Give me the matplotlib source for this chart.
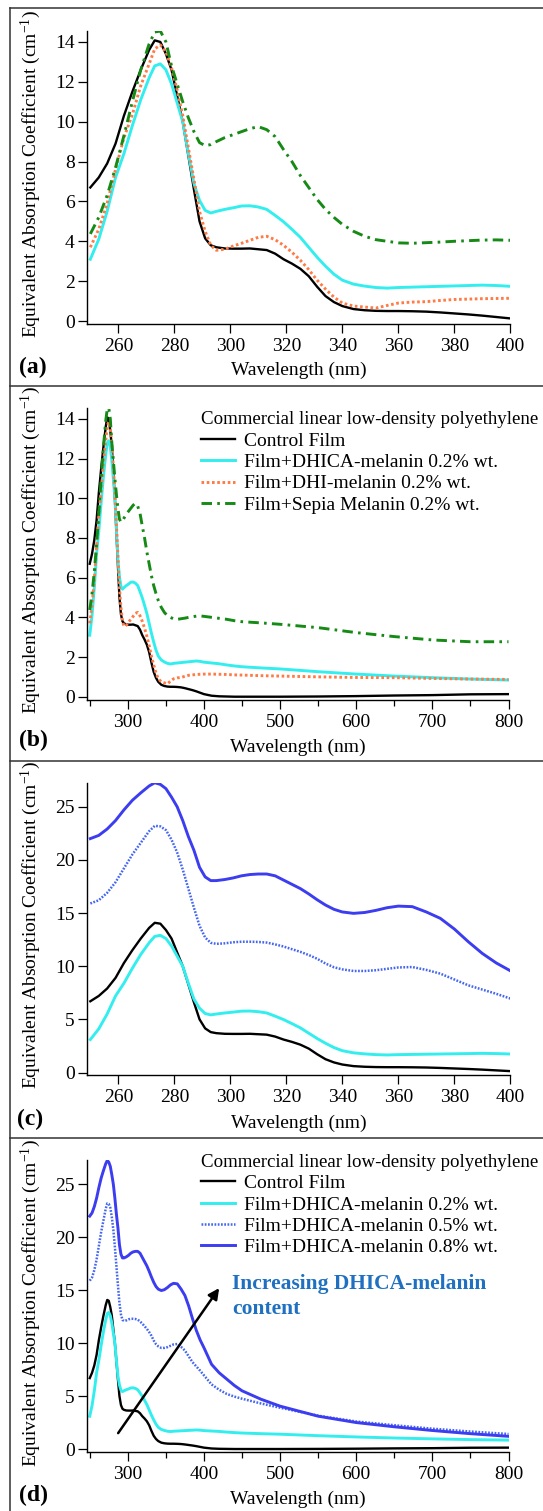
import numpy as np
import matplotlib
matplotlib.use('Agg')
import matplotlib.pyplot as plt
from matplotlib.ticker import MultipleLocator

plt.rcParams['font.family'] = ['Liberation Serif', 'DejaVu Serif']
plt.rcParams['mathtext.fontset'] = 'custom'
plt.rcParams['mathtext.rm'] = 'Liberation Serif'
plt.rcParams['mathtext.it'] = 'Liberation Serif:italic'
plt.rcParams['mathtext.bf'] = 'Liberation Serif:bold'

# wavelength grid (nm)
wl = [250, 253, 256, 259, 262, 265, 268, 271, 273, 275, 277, 279, 281, 283, 285, 287,
      289, 291, 293, 295, 298, 301, 304, 307, 310, 313, 316, 319, 322, 325, 328, 331,
      334, 337, 340, 344, 348, 352, 356, 360, 365, 370, 375, 380, 385, 390, 395, 400,
      410, 420, 430, 440, 450, 475, 500, 550, 600, 650, 700, 750, 800]

control = [6.7, 7.2, 7.9, 8.9, 10.3, 11.5, 12.6, 13.6, 14.08, 14.0, 13.4, 12.6, 11.3, 10.0, 8.3, 6.6,
           5.0, 4.15, 3.8, 3.7, 3.64, 3.63, 3.63, 3.64, 3.6, 3.56, 3.38, 3.1, 2.88, 2.62, 2.25, 1.72,
           1.25, 0.95, 0.75, 0.6, 0.54, 0.51, 0.5, 0.5, 0.49, 0.47, 0.43, 0.38, 0.33, 0.27, 0.2, 0.13,
           0.05, 0.02, 0.01, 0.0, 0.0, 0.0, 0.0, 0.01, 0.03, 0.06, 0.08, 0.12, 0.13]

dhica_02 = [3.1, 4.1, 5.5, 7.2, 8.4, 9.8, 11.1, 12.2, 12.8, 12.9, 12.6, 11.9, 10.95, 10.0, 8.4, 6.9,
            6.05, 5.55, 5.42, 5.5, 5.6, 5.68, 5.77, 5.78, 5.72, 5.6, 5.3, 4.98, 4.6, 4.2, 3.7, 3.2,
            2.75, 2.35, 2.05, 1.85, 1.75, 1.68, 1.65, 1.68, 1.7, 1.72, 1.74, 1.76, 1.78, 1.8, 1.78, 1.74,
            1.7, 1.66, 1.6, 1.55, 1.51, 1.45, 1.4, 1.26, 1.14, 1.04, 0.96, 0.89, 0.84]

dhi_02 = [3.7, 4.6, 5.9, 7.6, 9.2, 10.35, 11.8, 12.9, 13.65, 13.85, 13.5, 12.7, 11.6, 10.3, 8.7, 7.1,
          5.5, 4.5, 3.8, 3.55, 3.6, 3.76, 3.9, 4.05, 4.2, 4.25, 4.08, 3.8, 3.45, 3.05, 2.58, 2.05,
          1.6, 1.2, 0.9, 0.75, 0.7, 0.65, 0.78, 0.9, 0.95, 0.97, 1.03, 1.08, 1.1, 1.12, 1.13, 1.14,
          1.14, 1.13, 1.12, 1.1, 1.09, 1.06, 1.04, 1.0, 0.97, 0.96, 0.92, 0.89, 0.87]

sepia_02 = [4.37, 5.2, 6.3, 7.7, 9.3, 11.0, 12.6, 13.9, 14.5, 14.55, 14.0, 12.8, 11.9, 11.0, 10.2, 9.5,
            8.95, 8.8, 8.85, 9.0, 9.2, 9.35, 9.5, 9.65, 9.75, 9.6, 9.25, 8.6, 8.0, 7.3, 6.7, 6.1,
            5.6, 5.2, 4.85, 4.5, 4.25, 4.08, 4.0, 3.92, 3.9, 3.93, 3.96, 4.0, 4.03, 4.06, 4.07, 4.05,
            4.0, 3.95, 3.9, 3.83, 3.78, 3.72, 3.65, 3.48, 3.23, 3.03, 2.86, 2.77, 2.77]

dhica_05 = [15.9, 16.2, 16.9, 17.9, 19.2, 20.5, 21.6, 22.7, 23.2, 23.15, 22.8, 21.9, 20.7, 19.1, 17.3, 15.5,
            13.8, 12.7, 12.2, 12.1, 12.15, 12.25, 12.3, 12.3, 12.28, 12.22, 12.05, 11.85, 11.6, 11.35, 11.05, 10.7,
            10.25, 9.9, 9.7, 9.55, 9.55, 9.62, 9.75, 9.88, 9.92, 9.65, 9.3, 8.75, 8.2, 7.8, 7.4, 6.96,
            6.1, 5.6, 5.2, 4.95, 4.75, 4.3, 3.9, 3.15, 2.6, 2.25, 1.92, 1.65, 1.42]

dhica_08 = [22.0, 22.3, 22.9, 23.7, 24.7, 25.6, 26.3, 26.95, 27.25, 27.1, 26.7, 25.9, 25.0, 23.7, 22.2, 20.9,
            19.3, 18.4, 18.05, 18.05, 18.15, 18.3, 18.5, 18.62, 18.67, 18.67, 18.5, 18.1, 17.7, 17.3, 16.8, 16.25,
            15.75, 15.35, 15.1, 14.97, 15.05, 15.25, 15.5, 15.65, 15.6, 15.1, 14.5, 13.5, 12.3, 11.2, 10.3, 9.57,
            8.0, 7.2, 6.6, 6.0, 5.5, 4.7, 4.05, 3.1, 2.5, 2.1, 1.75, 1.45, 1.2]

legend_title = 'Commercial linear low-density polyethylene'
top_series = [('Control Film', control), ('Film+DHICA-melanin 0.2% wt.', dhica_02),
              ('Film+DHI-melanin 0.2% wt.', dhi_02), ('Film+Sepia Melanin 0.2% wt.', sepia_02)]
bot_series = [('Control Film', control), ('Film+DHICA-melanin 0.2% wt.', dhica_02),
              ('Film+DHICA-melanin 0.5% wt.', dhica_05), ('Film+DHICA-melanin 0.8% wt.', dhica_08)]

styles = {
    'Control Film': dict(color='black', lw=1.7, ls='-'),
    'Film+DHICA-melanin 0.2% wt.': dict(color='#33EEEE', lw=2.1, ls='-'),
    'Film+DHI-melanin 0.2% wt.': dict(color='#FF7A45', lw=2.1, ls=(0, (0.9, 0.9))),
    'Film+Sepia Melanin 0.2% wt.': dict(color='#158A15', lw=2.1, ls=(0, (3.6, 1.8, 0.9, 1.8))),
    'Film+DHICA-melanin 0.5% wt.': dict(color='#4466F2', lw=1.8, ls=(0, (0.7, 0.6))),
    'Film+DHICA-melanin 0.8% wt.': dict(color='#3C3CF0', lw=2.1, ls='-'),
}

FS = 14
W, H = 543, 1511
fig = plt.figure(figsize=(W / 100, H / 100), dpi=100)


def box(l, t, r, b):
    return [l / W, 1 - b / H, (r - l) / W, (b - t) / H]


def style_axis(ax, xmaj, xmin):
    for s in ['top', 'right']:
        ax.spines[s].set_visible(False)
    for s in ['left', 'bottom']:
        ax.spines[s].set_linewidth(1.0)
    ax.xaxis.set_major_locator(MultipleLocator(xmaj))
    if xmin:
        ax.xaxis.set_minor_locator(MultipleLocator(xmin))
    ax.tick_params(axis='both', which='major', direction='out', length=6.5, width=0.9,
                   labelsize=FS)
    ax.tick_params(axis='x', which='major', pad=3.5)
    ax.tick_params(axis='y', which='major', pad=2.2)
    ax.tick_params(axis='x', which='minor', direction='out', length=4.5, width=0.9)
    ax.set_xlabel('Wavelength (nm)', fontsize=FS)
    ax.set_ylabel('Equivalent Absorption Coefficient (cm$^{-1}$)', fontsize=FS)
    ax.yaxis.set_label_coords(-0.104, 0.512)


ax_a = fig.add_axes(box(86.7, 31, 510.3, 324))
ax_b = fig.add_axes(box(86.7, 408, 508.5, 700))
ax_c = fig.add_axes(box(86.7, 783, 510.3, 1075))
ax_d = fig.add_axes(box(86.7, 1160, 508.5, 1452.3))

for ax in (ax_a, ax_b):
    for name, vals in top_series:
        ax.plot(wl, vals, label=name, **styles[name])
for ax in (ax_c, ax_d):
    for name, vals in bot_series:
        ax.plot(wl, vals, label=name, **styles[name])

ax_a.set_xlim(248.7, 400)
ax_a.set_ylim(-0.15, 14.55)
ax_a.yaxis.set_major_locator(MultipleLocator(2))
style_axis(ax_a, 20, None)
ax_a.xaxis.set_label_coords(0.5, -0.1287)

ax_b.set_xlim(246.0, 800)
ax_b.set_ylim(-0.166, 14.55)
ax_b.yaxis.set_major_locator(MultipleLocator(2))
style_axis(ax_b, 100, 50)
ax_b.xaxis.set_label_coords(0.5, -0.1336)

ax_c.set_xlim(248.7, 400)
ax_c.set_ylim(-0.235, 27.23)
ax_c.yaxis.set_major_locator(MultipleLocator(5))
style_axis(ax_c, 20, None)
ax_c.xaxis.set_label_coords(0.5, -0.137)

ax_d.set_xlim(246.0, 800)
ax_d.set_ylim(-0.31, 27.3)
ax_d.yaxis.set_major_locator(MultipleLocator(5))
style_axis(ax_d, 100, 50)
ax_d.xaxis.set_label_coords(0.5, -0.1314)

for ax, ytop in ((ax_b, 411.5), (ax_d, 1154.0)):
    leg = ax.legend(loc='upper left', bbox_to_anchor=(201 / W, 1 - ytop / H),
                    bbox_transform=fig.transFigure, frameon=False, fontsize=FS,
                    title=legend_title, title_fontsize=13.55, alignment='left',
                    handlelength=1.75, handletextpad=0.45, labelspacing=0.19,
                    borderpad=0, borderaxespad=0)
    leg.set_clip_on(False)

# arrow + note in panel (d)
ax_d.annotate('', xy=(420, 15.2), xytext=(287.3, 1.5),
              arrowprops=dict(arrowstyle='-|>', color='black', lw=1.8, mutation_scale=16,
                              shrinkA=0, shrinkB=0))
ax_d.text(232.3 / W, 1 - 1274.5 / H, 'Increasing DHICA-melanin\ncontent', transform=fig.transFigure,
          fontsize=15.5, fontweight='bold', color='#1F70C1', ha='left', va='top',
          linespacing=1.3)

# panel labels
for lab, x, y in (('(a)', 19, 367), ('(b)', 19, 740), ('(c)', 17, 1119), ('(d)', 19, 1495)):
    fig.text(x / W, 1 - y / H, lab, fontsize=17, fontweight='bold', ha='left', va='center')

# panel frames
frame = dict(color='#333333', lw=1.1, transform=fig.transFigure)
for y in (7.5, 385.7, 760.7, 1137.7):
    fig.add_artist(plt.Line2D([9.5 / W, 1], [1 - y / H, 1 - y / H], **frame))
fig.add_artist(plt.Line2D([9.5 / W, 9.5 / W], [1 - 7.5 / H, 0], **frame))

fig.savefig('out.png', dpi=100)
